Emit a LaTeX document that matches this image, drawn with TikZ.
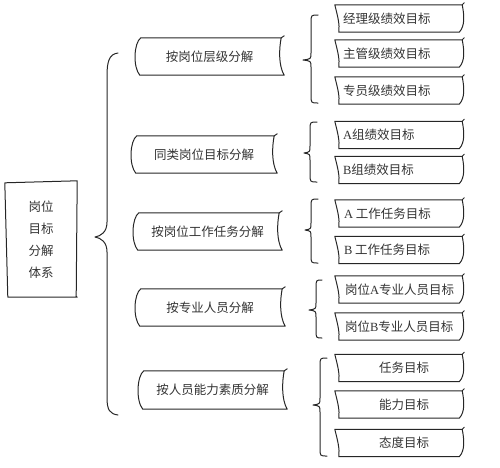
\documentclass[tikz,border=0pt]{standalone}
\usepackage{fontspec}
\setmainfont{Noto Sans CJK SC}
\newfontfamily\latf{Liberation Serif}
\usetikzlibrary{calc}
\newcommand\lat[1]{{\latf #1}}
\tikzset{
  edge/.style={draw=black!85, line width=1pt, line cap=round, line join=round},
  cjk/.style={font=\fontsize{12.5}{22}\selectfont, text=black!80},
  midbox/.style={cjk, minimum height=37pt, inner sep=0pt},
  rbox/.style={minimum width=127pt, minimum height=27pt, inner sep=0pt},
  rtxt/.style={cjk, anchor=west, inner sep=0pt},
  ctxt/.style={cjk, inner sep=0pt},
}
% outline of a middle box
\newcommand\midshape[1]{%
  \draw[edge] ($(#1.north east)+(-1,0)$) -- ($(#1.north west)+(4,0)$)
    .. controls ($(#1.north west)+(-3,5)$) and ($(#1.south west)+(-4,-8)$) .. ($(#1.south west)+(3,0)$)
    -- ($(#1.south east)+(2,0)$)
    .. controls ($(#1.south east)+(-4,-10)$) and ($(#1.north east)+(-3,10)$) .. ($(#1.north east)+(-1,0)$)
    -- ($(#1.north east)+(2,-2)$);}
% outline of a leaf box
\newcommand\leafshape[1]{%
  \draw[edge] (#1.north east) -- ($(#1.north west)+(0,0)$)
    .. controls ($(#1.north west)+(3,12)$) and ($(#1.south west)+(5,-8)$) .. ($(#1.south west)+(4,0)$)
    -- ($(#1.south east)+(-3,0)$)
    .. controls ($(#1.south east)+(3,-6)$) and ($(#1.north east)+(2,10)$) .. (#1.north east)
    -- ($(#1.north east)+(2,-2)$);}
% curly brace: xend xline xtip ytop ymid ybot
\newcommand\mybrace[6]{%
  \draw[edge] (#1,#4) .. controls (#2,#4) .. (#2,#4+8) -- (#2,#5-7)
    .. controls (#2,#5-1) .. (#3,#5) .. controls (#2,#5+1) .. (#2,#5+7)
    -- (#2,#6-8) .. controls (#2,#6) .. (#1,#6);}
\begin{document}
\begin{tikzpicture}[x=1pt, y=-1pt]
\useasboundingbox (0,0) rectangle (500,467);

% root
\node[ctxt, minimum width=72pt, minimum height=115pt, align=center] (root) at (41,239.5) {岗位\\目标\\分解\\体系};
\draw[edge] ($(root.north west)+(0,1)$) -- ($(root.north east)+(0,-1)$) -- ($(root.south east)+(-1,-1)$) -- ($(root.south east)+(0,0)$) -- ($(root.south west)+(3,0)$) -- cycle;

% big brace
\coordinate (btop) at (118,53);
\coordinate (btip) at (95,237);
\coordinate (bbot) at (118,415);
\draw[edge] (btop) .. controls (109,54) and (107,62) .. (107,76) -- (107,222)
  .. controls (107,232) and (101,236) .. (btip)
  .. controls (101,238) and (107,242) .. (107,252) -- (107,398)
  .. controls (107,410) and (110,414) .. (bbot);

% middle boxes
\node[midbox, minimum width=145pt] (m1) at (209.5,56.5) {按岗位层级分解};
\node[midbox, minimum width=142pt] (m2) at (204,154.5) {同类岗位目标分解};
\node[midbox, minimum width=145pt] (m3) at (207.5,231.5) {按岗位工作任务分解};
\node[midbox, minimum width=146pt] (m4) at (210,307.5) {按专业人员分解};
\node[midbox, minimum width=145pt, minimum height=38pt] (m5) at (212.5,390) {按人员能力素质分解};
\foreach \n in {m1,m2,m3,m4,m5} {\midshape{\n}}

% small braces
\mybrace{318}{311}{303}{15}{60}{103}
\mybrace{317}{310}{304}{122}{153}{182}
\mybrace{318}{311}{305}{199}{230}{263}
\mybrace{322}{316}{309}{280}{310}{338}
\mybrace{327}{320}{313}{358}{405}{456}

% leaf boxes
\node[rbox] (r11) at (398.5,18.5) {};
\node[rbox] (r12) at (398.5,53.5) {};
\node[rbox] (r13) at (398.5,90.5) {};
\node[rbox] (r21) at (398.5,135) {};
\node[rbox] (r22) at (398.5,170) {};
\node[rbox] (r31) at (398.5,213.5) {};
\node[rbox] (r32) at (398.5,250) {};
\node[rbox] (r41) at (398.5,289.5) {};
\node[rbox] (r42) at (398.5,326.5) {};
\node[rbox] (r51) at (398.5,368) {};
\node[rbox] (r52) at (398.5,404.5) {};
\node[rbox] (r53) at (398.5,443) {};
\foreach \n in {r11,r12,r13,r21,r22,r31,r32,r41,r42,r51,r52,r53} {\leafshape{\n}}

\node[rtxt] (t11) at ($(r11.west)+(8,0)$) {经理级绩效目标};
\node[rtxt] (t12) at ($(r12.west)+(8,0)$) {主管级绩效目标};
\node[rtxt] (t13) at ($(r13.west)+(8,0)$) {专员级绩效目标};
\node[rtxt] (t21) at ($(r21.west)+(8,0)$) {\lat{A}组绩效目标};
\node[rtxt] (t22) at ($(r22.west)+(8,0)$) {\lat{B}组绩效目标};
\node[rtxt] (t31) at ($(r31.west)+(9,0)$) {\lat{A} 工作任务目标};
\node[rtxt] (t32) at ($(r32.west)+(9,0)$) {\lat{B} 工作任务目标};
\node[rtxt] (t41) at ($(r41.west)+(10,0)$) {岗位\lat{A}专业人员目标};
\node[rtxt] (t42) at ($(r42.west)+(10,0)$) {岗位\lat{B}专业人员目标};
\node[ctxt] (t51) at ($(r51)+(5.5,0)$) {任务目标};
\node[ctxt] (t52) at ($(r52)+(5.5,0)$) {能力目标};
\node[ctxt] (t53) at ($(r53)+(5.5,0)$) {态度目标};
\end{tikzpicture}
\end{document}
